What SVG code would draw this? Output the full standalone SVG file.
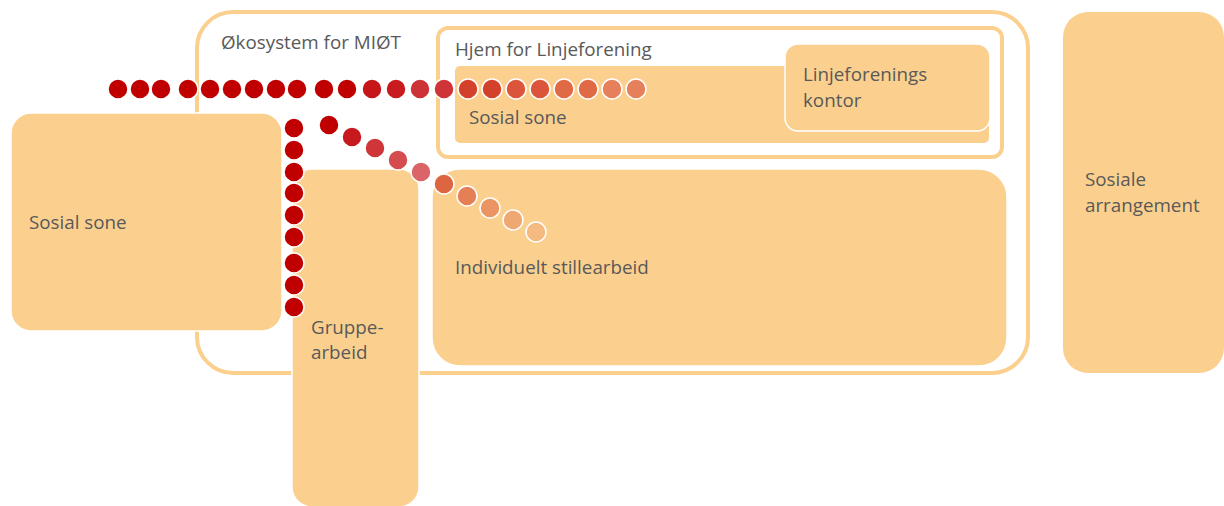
<svg xmlns="http://www.w3.org/2000/svg" width="1224" height="506" viewBox="0 0 1224 506">
<style>
.box{fill:#FBD08F;}
.boxw{fill:#FBD08F;stroke:#FFFFFF;stroke-width:1.5;}
.frame{fill:none;stroke:#FBD08F;stroke-width:4;}
.lbl{font-family:"Open Sans","Liberation Sans",sans-serif;font-size:18.8px;fill:#595959;}
.dots circle{r:10px;stroke:#FFFFFF;stroke-width:1.5;}
</style>
<rect width="1224" height="506" fill="#FFFFFF"/>
<g id="okosystem">
<rect class="frame" x="197" y="12" width="831" height="361" rx="36"/>
<text class="lbl" x="221" y="49">Økosystem for MIØT</text>
</g>
<g id="hjem">
<rect class="frame" x="438" y="28" width="564" height="129" rx="10"/>
<text class="lbl" x="455" y="56">Hjem for Linjeforening</text>
</g>
<g id="sosial-sone-hjem">
<rect class="box" x="455" y="66" width="534" height="77" rx="5"/>
<text class="lbl" x="469" y="124">Sosial sone</text>
</g>
<g id="kontor">
<rect class="boxw" x="785" y="44" width="205" height="87" rx="13"/>
<text class="lbl" x="803" y="81">Linjeforenings</text>
<text class="lbl" x="803" y="107">kontor</text>
</g>
<g id="individuelt">
<rect class="boxw" x="432" y="169" width="575" height="197" rx="28"/>
<text class="lbl" x="455" y="274">Individuelt stillearbeid</text>
</g>
<g id="sosial-sone">
<rect class="boxw" x="11" y="113" width="271" height="218" rx="20"/>
<text class="lbl" x="29" y="229">Sosial sone</text>
</g>
<g id="gruppearbeid">
<rect class="boxw" x="292" y="169" width="127" height="338" rx="20"/>
<text class="lbl" x="311" y="334">Gruppe-</text>
<text class="lbl" x="311" y="359">arbeid</text>
</g>
<g id="sosiale-arrangement">
<rect class="box" x="1063" y="12" width="161" height="361" rx="25"/>
<text class="lbl" x="1085" y="186">Sosiale</text>
<text class="lbl" x="1085" y="212">arrangement</text>
</g>
<g id="connectors" class="dots">
<g id="path-top">
<circle cx="118" cy="89" fill="#C00000"/>
<circle cx="140" cy="89" fill="#C00000"/>
<circle cx="161" cy="89" fill="#C00000"/>
<circle cx="188" cy="89" fill="#C00000"/>
<circle cx="210" cy="89" fill="#C00000"/>
<circle cx="232" cy="89" fill="#C00000"/>
<circle cx="254" cy="89" fill="#C00000"/>
<circle cx="276" cy="89" fill="#C00000"/>
<circle cx="297" cy="89" fill="#C00000"/>
<circle cx="324" cy="89" fill="#C00000"/>
<circle cx="347" cy="89" fill="#C00000"/>
<circle cx="372" cy="89" fill="#C5161A"/>
<circle cx="396" cy="89" fill="#C81B1F"/>
<circle cx="420" cy="89" fill="#CD3236"/>
<circle cx="444" cy="89" fill="#D03438"/>
<circle cx="468" cy="89" fill="#D4412A"/>
<circle cx="492" cy="89" fill="#D4412A"/>
<circle cx="516" cy="89" fill="#DA5539"/>
<circle cx="540" cy="89" fill="#DA5539"/>
<circle cx="564" cy="89" fill="#E06A46"/>
<circle cx="588" cy="89" fill="#E06A46"/>
<circle cx="612" cy="89" fill="#E5805A"/>
<circle cx="636" cy="89" fill="#E5805A"/>
</g>
<g id="path-down">
<circle cx="294" cy="128" fill="#C00000"/>
<circle cx="294" cy="150" fill="#C00000"/>
<circle cx="294" cy="172" fill="#C00000"/>
<circle cx="294" cy="193" fill="#C00000"/>
<circle cx="294" cy="215" fill="#C00000"/>
<circle cx="294" cy="237" fill="#C00000"/>
<circle cx="294" cy="263" fill="#C00000"/>
<circle cx="294" cy="285" fill="#C00000"/>
<circle cx="294" cy="307" fill="#C00000"/>
</g>
<g id="path-diagonal">
<circle cx="329" cy="125" fill="#C00000"/>
<circle cx="352" cy="137" fill="#C81A1E"/>
<circle cx="375" cy="148" fill="#CE363A"/>
<circle cx="398" cy="160" fill="#D44C50"/>
<circle cx="421" cy="172" fill="#DA6468"/>
<circle cx="444" cy="184" fill="#DD6540"/>
<circle cx="467" cy="196" fill="#E57F55"/>
<circle cx="490" cy="208" fill="#EB9563"/>
<circle cx="513" cy="220" fill="#F0A872"/>
<circle cx="536" cy="232" fill="#F4BA80"/>
</g>
</g>
</svg>
